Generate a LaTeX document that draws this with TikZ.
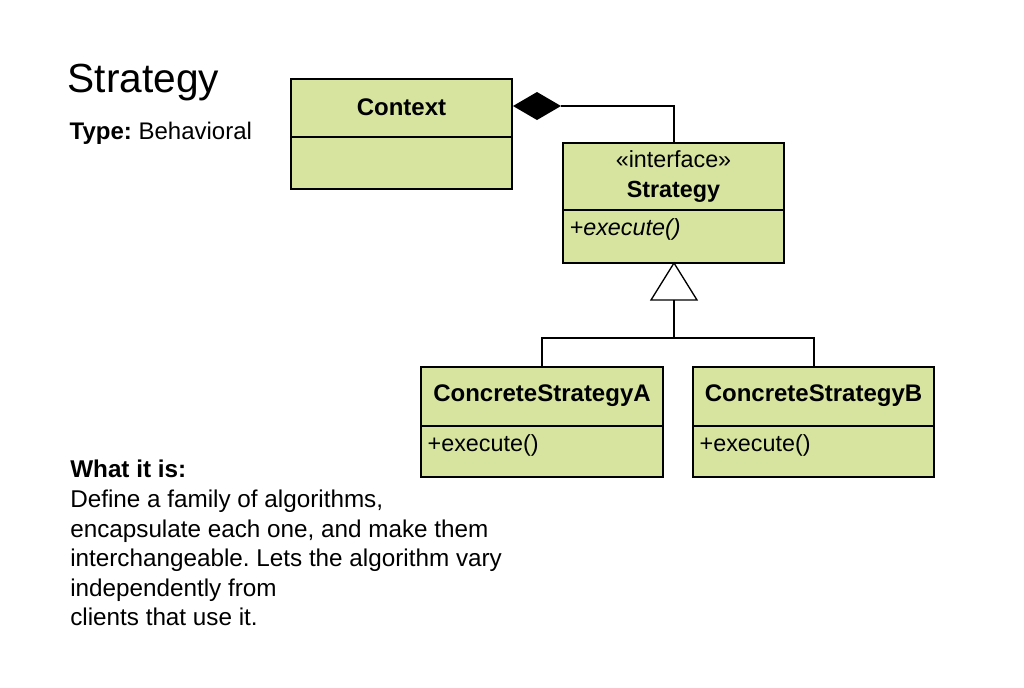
\documentclass[tikz,border=0pt]{standalone}
\usepackage{fontspec}
\setmainfont{Liberation Sans}
\frenchspacing
\begin{document}
\begin{tikzpicture}[x=0.75pt,y=-0.75pt,
  box/.style={draw,line width=1.6pt,fill=boxc},
  ln/.style={line width=1pt}]
\definecolor{boxc}{HTML}{D6E4A0}
\useasboundingbox (0,0) rectangle (1024,687);
% Context
\draw[box] (291,79) rectangle (512,189);
\draw[line width=1.6pt] (291,137) -- (512,137);
\node[font=\bfseries\fontsize{18}{21}\selectfont] (ctx) at (401.5,107) {Context};
% Strategy
\draw[box] (563,143) rectangle (784,263);
\draw[line width=1.6pt] (563,210) -- (784,210);
\node[font=\fontsize{17.5}{22.5}\selectfont,align=center] (st) at (673.5,177) {«interface»\\\textbf{Strategy}};
\node[anchor=west,font=\itshape\fontsize{17.5}{21}\selectfont] (se) at (565,229) {+execute()};
% CSA
\draw[box] (421,367) rectangle (663,477);
\draw[line width=1.6pt] (421,426) -- (663,426);
\node[font=\bfseries\fontsize{18}{21}\selectfont] (a) at (542,396) {ConcreteStrategyA};
\node[anchor=west,font=\fontsize{17.5}{21}\selectfont] (ae) at (423,445) {+execute()};
% CSB
\draw[box] (693,367) rectangle (934,477);
\draw[line width=1.6pt] (693,426) -- (934,426);
\node[font=\bfseries\fontsize{18}{21}\selectfont] (b) at (813.5,396) {ConcreteStrategyB};
\node[anchor=west,font=\fontsize{17.5}{21}\selectfont] (be) at (695,445) {+execute()};
% composition
\coordinate (d0) at (513,106);
\fill (d0) -- (537,92) -- (561,106) -- (537,120) -- cycle;
\draw[ln] (561,106) -- (674,106) -- (674,143);
% inheritance
\draw[ln] (674,263) -- (697,300) -- (651,300) -- cycle;
\draw[ln] (674,300) -- (674,338);
\draw[ln] (542,367) -- (542,338) -- (814,338) -- (814,367);
% texts
\node[anchor=base west,font=\fontsize{30.5}{34}\selectfont] (title) at (63,92) {Strategy};
\node[anchor=base west,font=\fontsize{18}{21}\selectfont] (type) at (65,139) {\textbf{Type:} Behavioral};
\node[anchor=north west,align=left,inner sep=0pt,font=\fontsize{18.2}{22.2}\selectfont] (desc) at (70,460)
{\textbf{What it is:}\\Define a family of algorithms,\\encapsulate each one, and make them\\interchangeable. Lets the algorithm vary\\independently from\\clients that use it.};
\end{tikzpicture}
\end{document}
